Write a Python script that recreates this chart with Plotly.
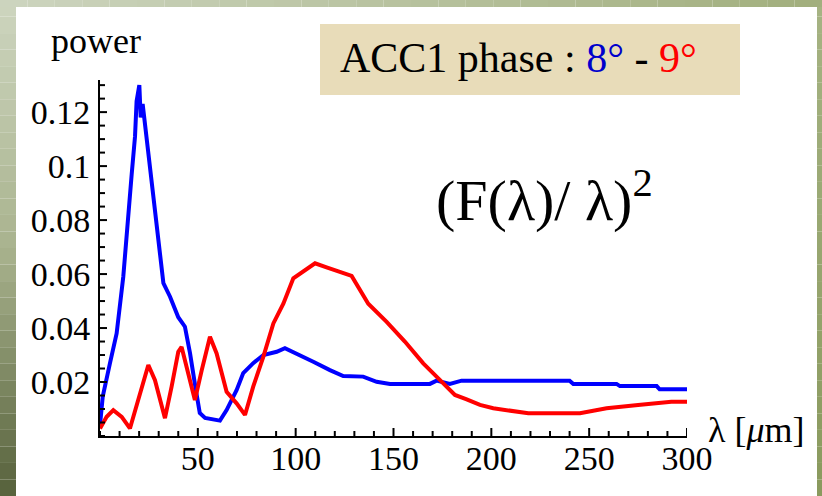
import plotly.graph_objects as go

# ---------------- data ----------------
blue_lambda = [0, 1.4, 5.1, 8.5, 11.9, 13.6, 16.2, 17.9, 18.7, 20.1, 20.8, 21.8, 23.8, 26.4, 29.0,
               30.7, 32.4, 35.8, 40.0, 43.4, 46.0, 49.0, 51.0, 53.7, 61.3, 64.7, 69.8, 73.2, 78.3,
               83.5, 90.3, 94.5, 102.2, 109.0, 117.5, 124.3, 134.5, 141.4, 148.2, 168.6, 172.0,
               178.8, 184.8, 240.0, 241.9, 264.0, 265.7, 284.5, 286.0, 300.0]
blue_power = [0.004, 0.0146, 0.027, 0.038, 0.059, 0.076, 0.097, 0.111, 0.124, 0.130, 0.118, 0.123,
              0.111, 0.094, 0.080, 0.068, 0.0566, 0.0516, 0.044, 0.0405, 0.0307, 0.017, 0.0085,
              0.0067, 0.0057, 0.0096, 0.017, 0.0233, 0.027, 0.030, 0.0312, 0.0325, 0.030, 0.0275,
              0.0244, 0.0222, 0.022, 0.0201, 0.0193, 0.0193, 0.0205, 0.0193, 0.0205, 0.0205,
              0.0193, 0.0193, 0.0185, 0.0185, 0.0173, 0.0173]

red_lambda = [0, 3.4, 6.8, 11.1, 15.3, 18.7, 22.1, 24.7, 28.1, 33.2, 36.6, 40.0, 41.7, 44.3, 48.5,
              52.0, 56.2, 59.6, 64.7, 69.8, 74.1, 78.3, 83.5, 88.6, 93.7, 98.8, 103.9, 109.9,
              115.8, 122.6, 128.6, 137.1, 146.5, 155.8, 165.2, 173.8, 181.4, 187.4, 194.2, 201.0,
              209.5, 218.9, 245.3, 258.9, 275.0, 292.0, 300.0]
red_power = [0.0028, 0.0071, 0.0096, 0.0071, 0.0028, 0.011, 0.0195, 0.0263, 0.0207, 0.0066, 0.0183,
             0.0312, 0.033, 0.0257, 0.0133, 0.0244, 0.0368, 0.0306, 0.0164, 0.0121, 0.0078, 0.0183,
             0.0294, 0.0417, 0.049, 0.0584, 0.0609, 0.064, 0.0625, 0.0606, 0.0593, 0.049, 0.0423,
             0.035, 0.0269, 0.0207, 0.0152, 0.0136, 0.0115, 0.0103, 0.0094, 0.0084, 0.0084, 0.0103,
             0.0115, 0.0127, 0.0127]

x_max = 300
y_max = 0.1319
x_tick_vals = [50, 100, 150, 200, 250, 300]
x_tick_text = ["50", "100", "150", "200", "250", "300"]
y_tick_vals = [0.02, 0.04, 0.06, 0.08, 0.10, 0.12]
y_tick_text = ["0.02", "0.04", "0.06", "0.08", "0.1", "0.12"]
x_minor_step = 10
y_minor_step = 0.005

# ---------------- layout geometry ----------------
W, H = 822, 496
ML, MR, MT, MB = 100, 135, 80, 60
PW, PH = W - ML - MR, H - MT - MB


def px(x):
    return (x - ML) / PW


def py(y):
    return (H - MB - y) / PH


def hexmix(c1, c2, t):
    a = [int(c1[i:i + 2], 16) for i in (1, 3, 5)]
    b = [int(c2[i:i + 2], 16) for i in (1, 3, 5)]
    return "#" + "".join(f"{round(a[k] + (b[k] - a[k]) * t):02x}" for k in range(3))


SERIF = "Liberation Serif, Times New Roman, serif"

fig = go.Figure()
fig.add_trace(go.Scatter(x=blue_lambda, y=blue_power, mode="lines",
                         line=dict(color="#0000ff", width=4), hoverinfo="skip"))
fig.add_trace(go.Scatter(x=red_lambda, y=red_power, mode="lines",
                         line=dict(color="#ff0000", width=4), hoverinfo="skip"))

shapes = []
# green textured frame (approximated with gradient bands)
n = 30
for i in range(n):
    y0, y1 = H * i / n, H * (i + 1) / n
    t = i / (n - 1)
    c = hexmix("#ccd4bd", "#a9b38e", t / 0.5) if t < 0.5 else hexmix("#a9b38e", "#59643e", (t - 0.5) / 0.5)
    shapes.append(dict(type="rect", xref="paper", yref="paper", x0=px(0), x1=px(16),
                       y0=py(y0), y1=py(y1), fillcolor=c, line=dict(width=0), layer="below"))
    cr = hexmix("#a6b383", "#8a9a5e", t)
    shapes.append(dict(type="rect", xref="paper", yref="paper", x0=px(817), x1=px(W),
                       y0=py(y0), y1=py(y1), fillcolor=cr, line=dict(width=0), layer="below"))
for i in range(n):
    x0, x1 = W * i / n, W * (i + 1) / n
    c = hexmix("#ccd4be", "#a2af7e", i / (n - 1))
    shapes.append(dict(type="rect", xref="paper", yref="paper", x0=px(x0), x1=px(x1),
                       y0=py(0), y1=py(7), fillcolor=c, line=dict(width=0), layer="below"))
# title box
shapes.append(dict(type="rect", xref="paper", yref="paper", x0=px(320), x1=px(740),
                   y0=py(95), y1=py(24), fillcolor="#e8dcb9", line=dict(width=0), layer="below"))

# inside tick marks (major + minor), drawn on the axes' own scales
k = 0
while k * x_minor_step <= x_max + 1e-9:
    v = k * x_minor_step
    major = any(abs(v - m) < 1e-9 for m in x_tick_vals)
    shapes.append(dict(type="line", xref="x", yref="paper", x0=v, x1=v, y0=0,
                       y1=(8 if major else 5) / PH, line=dict(color="black", width=2),
                       layer="above"))
    k += 1
k = 0
while k * y_minor_step <= y_max + 1e-9:
    v = k * y_minor_step
    major = any(abs(v - m) < 1e-9 for m in y_tick_vals)
    shapes.append(dict(type="line", xref="paper", yref="y", x0=0, x1=(7 if major else 5) / PW,
                       y0=v, y1=v, line=dict(color="black", width=2), layer="above"))
    k += 1

annotations = [
    dict(text="ACC1 phase : <span style='color:#0000cc'>8°</span> - <span style='color:#ff0000'>9°</span>",
         xref="paper", yref="paper", x=px(338), y=py(58), xanchor="left", yanchor="middle",
         showarrow=False, font=dict(family=SERIF, size=42, color="black")),
    dict(text="(F(λ)/ λ)<sup>2</sup>", xref="paper", yref="paper", x=px(434), y=py(196),
         xanchor="left", yanchor="middle", showarrow=False,
         font=dict(family=SERIF, size=58, color="black")),
    dict(text="power", xref="paper", yref="paper", x=px(49), y=py(41), xanchor="left",
         yanchor="middle", showarrow=False, font=dict(family=SERIF, size=36, color="black")),
    dict(text="λ [<i>μ</i>m]", xref="paper", yref="paper", x=px(706), y=py(430), xanchor="left",
         yanchor="middle", showarrow=False, font=dict(family=SERIF, size=36, color="black")),
]

fig.update_layout(
    width=W, height=H, margin=dict(l=ML, r=MR, t=MT, b=MB, pad=0),
    paper_bgcolor="white", plot_bgcolor="white", showlegend=False,
    shapes=shapes, annotations=annotations,
    xaxis=dict(range=[0, x_max], showgrid=False, zeroline=False, showline=True, linecolor="black",
               linewidth=2, ticks="", tickmode="array", tickvals=x_tick_vals, ticktext=x_tick_text,
               ticklabelstandoff=-9, tickfont=dict(family=SERIF, size=34, color="black")),
    yaxis=dict(range=[0, y_max], showgrid=False, zeroline=False, showline=True, linecolor="black",
               linewidth=2, ticks="", tickmode="array", tickvals=y_tick_vals, ticktext=y_tick_text,
               ticklabelstandoff=1, tickfont=dict(family=SERIF, size=34, color="black")),
)

fig.write_html("out.html")
